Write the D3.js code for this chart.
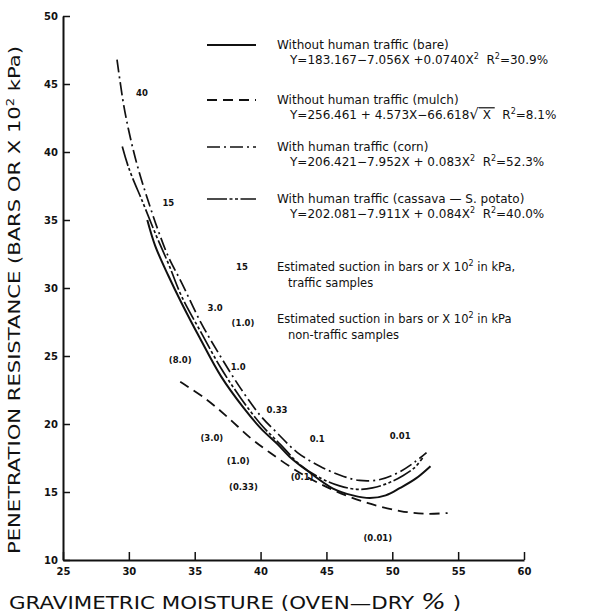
<!DOCTYPE html>
<html>
<head>
<meta charset="utf-8">
<script src="https://cdn.jsdelivr.net/npm/d3@7"></script>
<style>
  html, body { margin: 0; padding: 0; background: #fff; }
  svg { display: block; }
  text { font-family: "DejaVu Sans", "Liberation Sans", Arial, sans-serif; fill: #111; }
</style>
</head>
<body>
<svg id="chart" width="591" height="614"></svg>
<script>
// Axis ticks
const xTicks = [25, 30, 35, 40, 45, 50, 55, 60];
const yTicks = [10, 15, 20, 25, 30, 35, 40, 45, 50];

// Fitted curves: [gravimetric moisture %, penetration resistance]
const bare = [
  [31.4, 35.0], [32.0, 33.1], [33.0, 30.9], [34.0, 28.9], [35.4, 26.3],
  [37.0, 23.5], [38.7, 21.2], [40.0, 19.7], [41.3, 18.5], [42.2, 17.6],
  [43.5, 16.6], [45.5, 15.25], [47.0, 14.75], [48.3, 14.55], [49.5, 14.75],
  [50.6, 15.3], [51.8, 16.0], [52.9, 16.9]
];
const mulch = [
  [33.9, 23.1], [35.9, 21.8], [37.5, 20.5], [39.2, 19.0], [40.7, 17.9],
  [43.0, 16.4], [45.5, 15.15], [48.1, 14.2], [50.6, 13.6], [52.5, 13.4],
  [54.2, 13.45]
];
const corn = [
  [29.1, 46.8], [29.6, 43.5], [30.1, 41.1], [30.7, 38.8], [31.4, 36.6],
  [32.2, 34.3], [33.0, 32.3], [34.0, 30.4], [35.5, 27.4], [37.0, 24.9],
  [38.5, 22.6], [40.0, 20.6], [41.3, 19.3], [42.8, 17.9], [44.5, 16.9],
  [46.0, 16.25], [47.5, 15.85], [49.0, 15.9], [50.4, 16.4], [51.7, 17.2],
  [52.6, 17.9]
];
const cassava = [
  [29.5, 40.4], [30.0, 38.8], [31.1, 36.2], [32.1, 33.8], [33.0, 31.8],
  [34.0, 29.4], [35.5, 26.7], [37.0, 24.1], [38.5, 21.9], [40.0, 20.0],
  [41.5, 18.5], [43.0, 17.0], [44.5, 16.05], [46.0, 15.45], [47.3, 15.2],
  [48.5, 15.3], [49.8, 15.7], [50.8, 16.2], [51.7, 16.8], [52.3, 17.5]
];

// Estimated suction labels (bars), traffic and non-traffic samples
const trafficSuction = [
  ["40", 31.0, 44.3], ["15", 33.0, 36.25], ["3.0", 36.55, 28.5],
  ["1.0", 38.3, 24.2], ["0.33", 41.25, 21.0], ["0.1", 44.3, 18.9],
  ["0.01", 50.6, 19.1]
];
const nonTrafficSuction = [
  ["(8.0)", 33.9, 24.7], ["(3.0)", 36.3, 19.0], ["(1.0)", 38.3, 17.3],
  ["(0.33)", 38.7, 15.4], ["(0.1)", 43.15, 16.1], ["(0.01)", 48.9, 11.6]
];

const svg = d3.select("#chart");
const x = d3.scaleLinear().domain([25, 60]).range([63, 524]);
const y = d3.scaleLinear().domain([10, 50]).range([560, 16]);

// Axes with inward ticks
const xAxis = d3.axisBottom(x).tickValues(xTicks).tickSizeInner(-8).tickSizeOuter(0).tickPadding(8);
const yAxis = d3.axisLeft(y).tickValues(yTicks).tickSizeInner(-7).tickSizeOuter(0).tickPadding(5);

const gx = svg.append("g").attr("transform", "translate(0,560)").call(xAxis);
const gy = svg.append("g").attr("transform", "translate(63,0)").call(yAxis);
[gx, gy].forEach(g => {
  g.select(".domain").attr("stroke", "#111").attr("stroke-width", 2);
  g.selectAll(".tick line").attr("stroke", "#111").attr("stroke-width", 1.5);
  g.selectAll(".tick text")
    .attr("font-family", "'Liberation Sans', Arial, sans-serif")
    .attr("font-weight", "bold").attr("font-size", 10).attr("fill", "#111");
});

// Axis titles
svg.append("text")
  .attr("transform", "translate(20,300) rotate(-90)")
  .attr("text-anchor", "middle").attr("font-size", 16)
  .attr("font-family", "'Liberation Sans', Arial, sans-serif")
  .attr("textLength", 508).attr("lengthAdjust", "spacingAndGlyphs")
  .html("PENETRATION RESISTANCE (BARS OR X 10<tspan dy='-6' font-size='10'>2</tspan><tspan dy='6'> kPa)</tspan>");

const xt = svg.append("text")
  .attr("x", 235).attr("y", 609)
  .attr("text-anchor", "middle").attr("font-size", 18)
  .attr("font-family", "'Liberation Sans', Arial, sans-serif")
  .attr("textLength", 452).attr("lengthAdjust", "spacingAndGlyphs");
xt.append("tspan").text("GRAVIMETRIC MOISTURE (OVEN\u2014DRY ");
xt.append("tspan").attr("font-style", "italic").attr("font-size", 22).text("%");
xt.append("tspan").text(" )");

// Curve styles
const styles = {
  bare:    { dash: null,              width: 2.0 },
  mulch:   { dash: "10,6",            width: 1.8 },
  corn:    { dash: "13,4,2,4",        width: 1.7 },
  cassava: { dash: "20,2.5,3,2.5,3,2.5", width: 1.7 }
};

const line = d3.line()
  .x(d => x(d[0])).y(d => y(d[1]))
  .curve(d3.curveCatmullRom.alpha(0.5));

[["bare", bare], ["mulch", mulch], ["corn", corn], ["cassava", cassava]].forEach(([k, data]) => {
  svg.append("path")
    .datum(data)
    .attr("d", line)
    .attr("fill", "none").attr("stroke", "#111")
    .attr("stroke-width", styles[k].width)
    .attr("stroke-dasharray", styles[k].dash);
});

// Suction labels
const lblFont = 8.5;
svg.append("g").selectAll("text").data(trafficSuction.concat(nonTrafficSuction)).join("text")
  .attr("x", d => x(d[1])).attr("y", d => y(d[2]))
  .attr("dy", "0.35em").attr("text-anchor", "middle")
  .attr("font-family", "'Liberation Sans', Arial, sans-serif")
  .attr("font-size", lblFont).attr("font-weight", "bold")
  .text(d => d[0]);

// Legend
const sup = "<tspan dy='-5' font-size='8'>2</tspan><tspan dy='5'>";
const legend = [
  { key: "bare", yy: 45, title: "Without human traffic (bare)",
    eq: "Y=183.167\u22127.056X +0.0740X" + sup + "  R</tspan>" + sup + "=30.9%</tspan>" },
  { key: "mulch", yy: 100, title: "Without human traffic (mulch)",
    eq: "Y=256.461 + 4.573X\u221266.618<tspan font-size='15'>\u221A</tspan><tspan style='text-decoration:overline'> X </tspan><tspan>  R</tspan>" + sup + "=8.1%</tspan>" },
  { key: "corn", yy: 147, title: "With human traffic (corn)",
    eq: "Y=206.421\u22127.952X + 0.083X" + sup + "  R</tspan>" + sup + "=52.3%</tspan>" },
  { key: "cassava", yy: 199, title: "With human traffic (cassava \u2014 S. potato)",
    eq: "Y=202.081\u22127.911X + 0.084X" + sup + "  R</tspan>" + sup + "=40.0%</tspan>" }
];
const lg = svg.append("g");
legend.forEach(e => {
  lg.append("line")
    .attr("x1", 207).attr("x2", 256).attr("y1", e.yy).attr("y2", e.yy)
    .attr("stroke", "#111").attr("stroke-width", styles[e.key].width)
    .attr("stroke-dasharray", styles[e.key].dash);
  lg.append("text").attr("x", 277).attr("y", e.yy).attr("dy", "0.35em")
    .attr("font-size", 12).text(e.title);
  lg.append("text").attr("x", 290).attr("y", e.yy + 15).attr("dy", "0.35em")
    .attr("font-size", 12).attr("xml:space", "preserve").html(e.eq);
});

// Suction legend entries
lg.append("text").attr("x", 242).attr("y", 267).attr("dy", "0.35em")
  .attr("font-family", "'Liberation Sans', Arial, sans-serif")
  .attr("text-anchor", "middle").attr("font-size", lblFont).attr("font-weight", "bold").text("15");
lg.append("text").attr("x", 277).attr("y", 267).attr("dy", "0.35em").attr("font-size", 11.5)
  .html("Estimated suction in bars or X 10" + sup + " in kPa,</tspan>");
lg.append("text").attr("x", 288).attr("y", 283).attr("dy", "0.35em").attr("font-size", 11.5)
  .text("traffic samples");
lg.append("text").attr("x", 243).attr("y", 323).attr("dy", "0.35em")
  .attr("font-family", "'Liberation Sans', Arial, sans-serif")
  .attr("text-anchor", "middle").attr("font-size", lblFont).attr("font-weight", "bold").text("(1.0)");
lg.append("text").attr("x", 277).attr("y", 319).attr("dy", "0.35em").attr("font-size", 11.5)
  .html("Estimated suction in bars or X 10" + sup + " in kPa</tspan>");
lg.append("text").attr("x", 288).attr("y", 335).attr("dy", "0.35em").attr("font-size", 11.5)
  .text("non-traffic samples");
</script>
</body>
</html>
